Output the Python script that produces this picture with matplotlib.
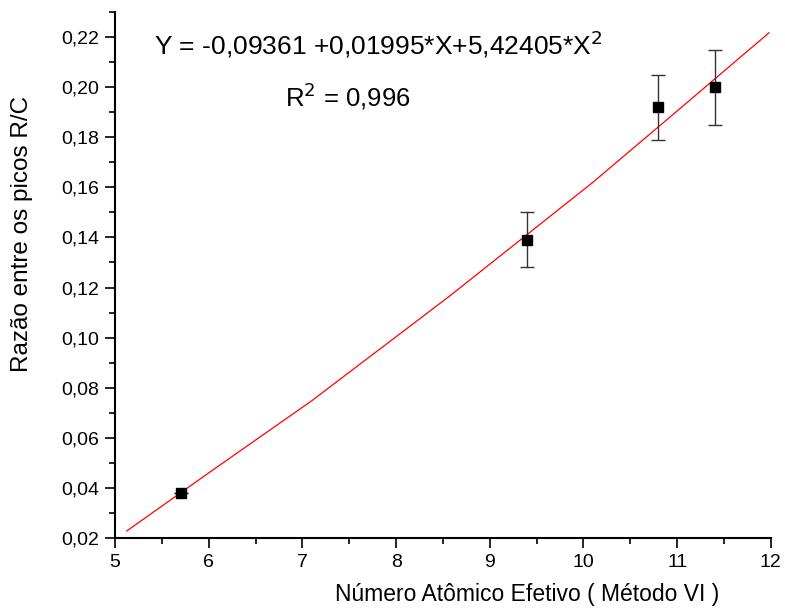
import matplotlib
matplotlib.use("Agg")
import matplotlib.pyplot as plt
from matplotlib.ticker import MultipleLocator, FuncFormatter

plt.rcParams['font.family'] = ['Liberation Sans', 'DejaVu Sans']

# data points
x_vals = [5.7, 9.4, 10.8, 11.4]
y_vals = [0.038, 0.139, 0.192, 0.200]
y_err = [0.0, 0.011, 0.013, 0.015]

# fit curve
fit_x = [5.125, 6.0, 7.10, 8.575, 10.10, 11.0, 11.98]
fit_y = [0.0228, 0.0460, 0.0748, 0.1167, 0.162, 0.1905, 0.2217]

fig = plt.figure(figsize=(7.85, 6.16), dpi=100)
ax = fig.add_axes([0.1465, 0.1266, 0.8355, 0.8539])

ax.plot(fit_x, fit_y, color='red', lw=0.9, zorder=2)
ax.errorbar(x_vals, y_vals, yerr=y_err, fmt='s', color='black', ms=7.5,
            ecolor='#333333', elinewidth=1, capsize=5, capthick=1, zorder=3)

ax.set_xlim(5, 12)
ax.set_ylim(0.02, 0.23)
ax.xaxis.set_major_locator(MultipleLocator(1))
ax.xaxis.set_minor_locator(MultipleLocator(0.5))
ax.yaxis.set_minor_locator(MultipleLocator(0.01))
ax.set_yticks([0.02 * i for i in range(1, 12)])
ax.yaxis.set_major_formatter(FuncFormatter(lambda v, p: f"{v:.2f}".replace('.', ',')))

for s in ['top', 'right']:
    ax.spines[s].set_visible(False)
for s in ['left', 'bottom']:
    ax.spines[s].set_linewidth(1.5)
ax.tick_params(which='major', direction='out', length=7.5, width=1.2, labelsize=14, pad=4)
ax.tick_params(which='minor', direction='out', length=4, width=1.2)

ax.set_xlabel("Número Atômico Efetivo ( Método VI )", fontsize=16.5, va='top')
ax.xaxis.set_label_coords(0.628, -0.0856)
ax.set_ylabel("Razão entre os picos R/C", fontsize=17.5, va='bottom')
ax.yaxis.set_label_coords(-0.125, 0.579)

fig.text(154 / 785, 1 - 55 / 616, "Y = -0,09361 +0,01995*X+5,42405*X$^{2}$",
         fontsize=19, ha='left', va='baseline')
fig.text(285 / 785, 1 - 106 / 616, "R$^{2}$ = 0,996",
         fontsize=18.5, ha='left', va='baseline')

fig.savefig("out.png", dpi=100)
